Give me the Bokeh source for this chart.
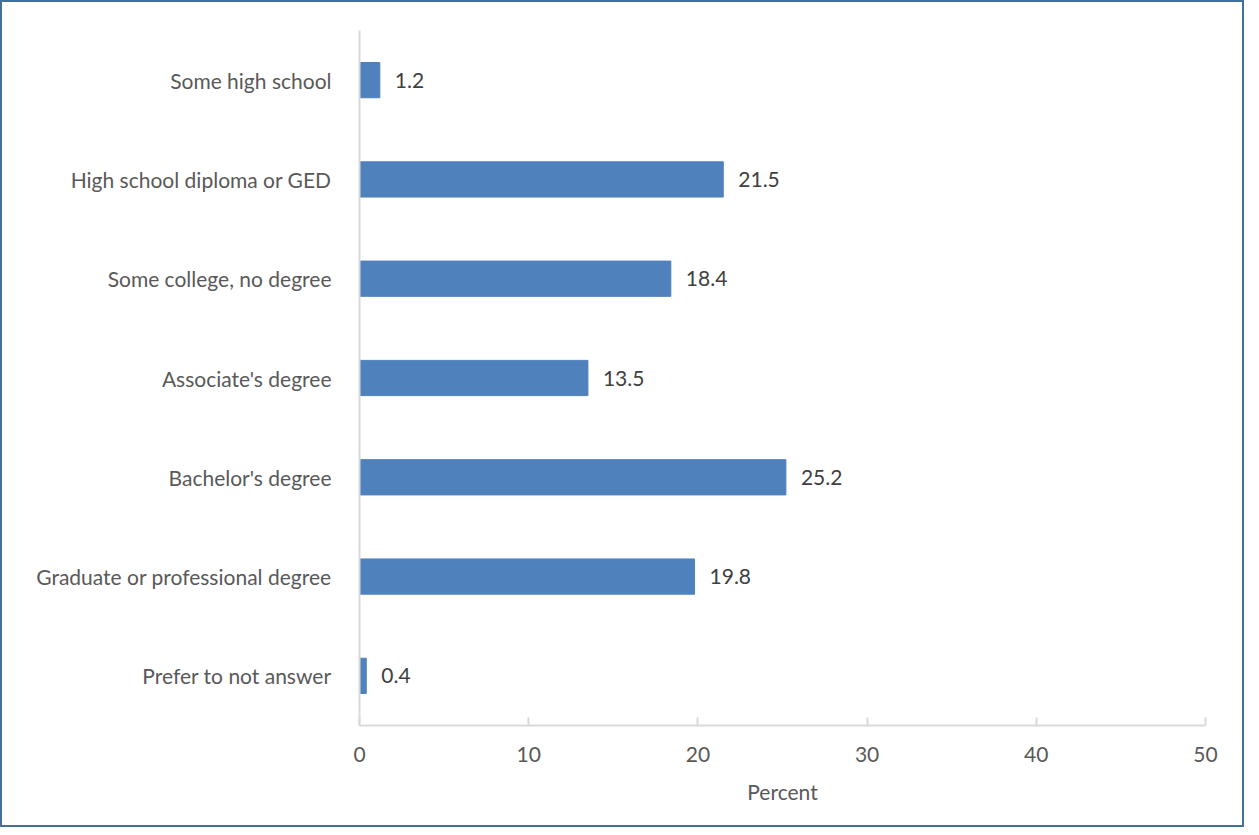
from bokeh.plotting import figure
from bokeh.models import ColumnDataSource, LabelSet, FactorRange, Range1d, FixedTicker
from bokeh.core.properties import value
from bokeh.embed import file_html
from bokeh.resources import INLINE

categories = ["Some high school", "High school diploma or GED", "Some college, no degree",
              "Associate's degree", "Bachelor's degree", "Graduate or professional degree",
              "Prefer to not answer"]
values = [1.2, 21.5, 18.4, 13.5, 25.2, 19.8, 0.4]
value_labels = ["1.2", "21.5", "18.4", "13.5", "25.2", "19.8", "0.4"]
x_ticks = [0, 10, 20, 30, 40, 50]

FONT = "Lato"
FS = "21px"

src = ColumnDataSource(data=dict(cat=categories, val=values, lab=value_labels))

p = figure(width=1244, height=827, output_backend="svg", toolbar_location=None,
           y_range=FactorRange(*reversed(categories)), x_range=Range1d(0, 50),
           min_border_left=357, min_border_right=41, min_border_top=28, min_border_bottom=104)
p.styles = {"border": "2px solid #41719C", "box-sizing": "border-box"}
p.outline_line_color = None
p.background_fill_color = "white"

p.hbar(y="cat", right="val", left=0, height=0.355, source=src, color="#4F81BD")

labels = LabelSet(x="val", y="cat", text="lab", source=src, x_offset=15,
                  text_baseline="middle", text_font=value(FONT), text_font_size=FS,
                  text_color="#404040")
p.add_layout(labels)

p.xgrid.visible = False
p.ygrid.visible = False

xa = p.xaxis[0]
xa.ticker = FixedTicker(ticks=x_ticks)
xa.axis_line_color = "#D9D9D9"
xa.axis_line_width = 2
xa.major_tick_line_color = "#D9D9D9"
xa.major_tick_line_width = 2
xa.major_tick_in = 8
xa.major_tick_out = 0
xa.minor_tick_line_color = None
xa.major_label_text_font = FONT
xa.major_label_text_font_size = FS
xa.major_label_text_color = "#595959"
xa.major_label_standoff = 21
xa.axis_label = "Percent"
xa.axis_label_text_font = FONT
xa.axis_label_text_font_size = FS
xa.axis_label_text_font_style = "normal"
xa.axis_label_text_color = "#595959"
xa.axis_label_standoff = 14

ya = p.yaxis[0]
ya.axis_line_color = "#D9D9D9"
ya.axis_line_width = 2
ya.major_tick_line_color = None
ya.minor_tick_line_color = None
ya.major_label_text_font = FONT
ya.major_label_text_font_size = FS
ya.major_label_text_color = "#595959"
ya.major_label_standoff = 22

open("out.html", "w").write(file_html(p, INLINE))
